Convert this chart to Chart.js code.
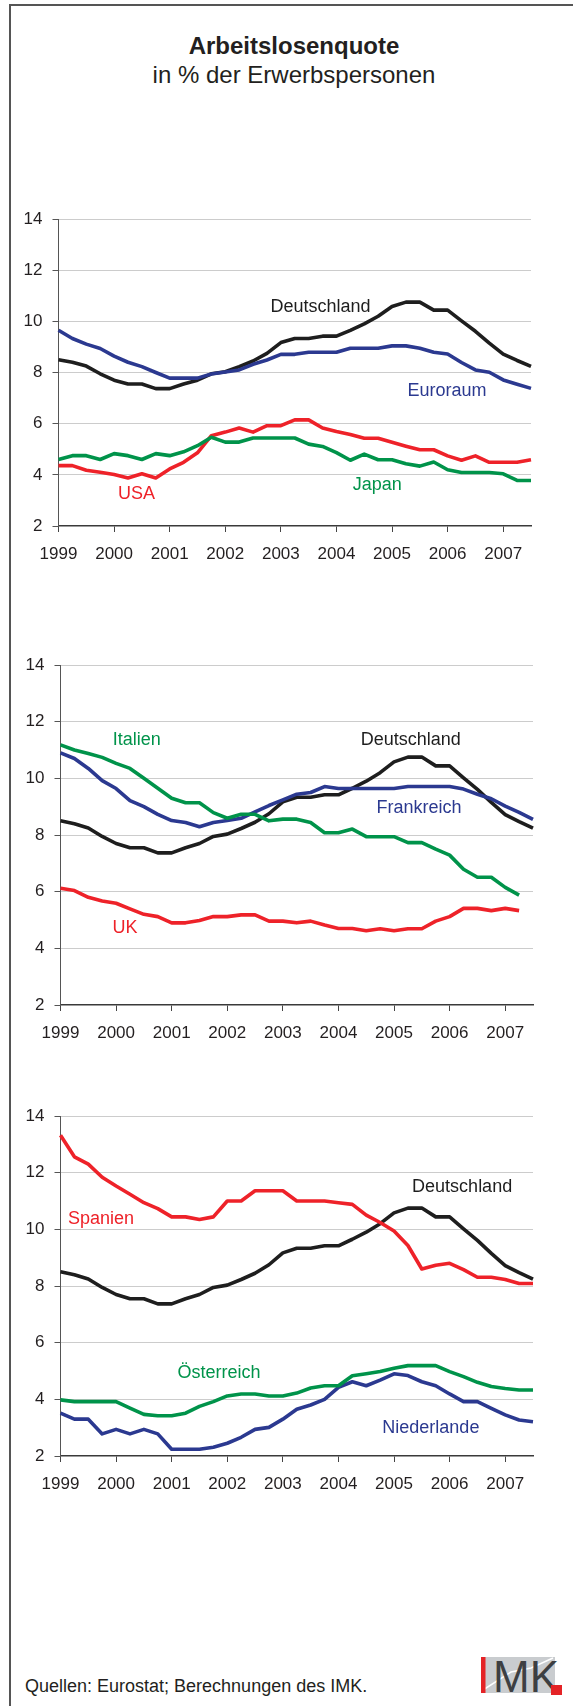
<!DOCTYPE html>
<html>
<head>
<meta charset="utf-8">
<script src="https://cdn.jsdelivr.net/npm/chart.js@4.4.1/dist/chart.umd.min.js"></script>
<style>
  html, body { margin: 0; padding: 0; background: #fff; }
  body { width: 573px; height: 1706px; position: relative; overflow: hidden;
         font-family: "Liberation Sans", Arial, sans-serif; color: #231f20; }
  .frame { position: absolute; left: 9px; top: 4px; width: 600px; height: 1800px;
           border-top: 2px solid #555; border-left: 2px solid #555; }
  .title { position: absolute; left: 10px; width: 568px; text-align: center;
           font-size: 24px; line-height: 24px; white-space: nowrap; }
  canvas { position: absolute; left: 0; }
  .foot { position: absolute; left: 25px; top: 1677px; font-size: 18px; line-height: 18px; white-space: nowrap; }
  .logo { position: absolute; left: 481px; top: 1657px; }
</style>
</head>
<body>
<div class="frame"></div>
<div class="title" style="top:34px;font-weight:bold;">Arbeitslosenquote</div>
<div class="title" style="top:63px;">in % der Erwerbspersonen</div>
<canvas id="c1" width="573" height="377"></canvas>
<canvas id="c2" width="573" height="410"></canvas>
<canvas id="c3" width="573" height="410"></canvas>
<div class="foot">Quellen: Eurostat; Berechnungen des IMK.</div>
<svg class="logo" width="84" height="40" viewBox="0 0 84 40">
  <rect x="0" y="0" width="74" height="36" fill="#c9cccf"/>
  <polyline points="2,33 30,15 50,11 72,1" fill="none" stroke="#ffffff" stroke-width="1.5"/>
  <rect x="0" y="0" width="4.5" height="36" fill="#e42326"/>
  <text x="12" y="35" font-family="Liberation Sans Narrow, Arial Narrow, sans-serif" font-size="44" fill="#3d3f42">MK</text>
  <rect x="70" y="28" width="11" height="10" fill="#e42326"/>
</svg>
<script>
// ---- Data (quarterly, 1999 Q1 – 2007 Q3) ----
const quarters = [
  '1999 Q1','1999 Q2','1999 Q3','1999 Q4',
  '2000 Q1','2000 Q2','2000 Q3','2000 Q4',
  '2001 Q1','2001 Q2','2001 Q3','2001 Q4',
  '2002 Q1','2002 Q2','2002 Q3','2002 Q4',
  '2003 Q1','2003 Q2','2003 Q3','2003 Q4',
  '2004 Q1','2004 Q2','2004 Q3','2004 Q4',
  '2005 Q1','2005 Q2','2005 Q3','2005 Q4',
  '2006 Q1','2006 Q2','2006 Q3','2006 Q4',
  '2007 Q1','2007 Q2','2007 Q3'
];
const yearLabels = ['1999','2000','2001','2002','2003','2004','2005','2006','2007'];
const yTicks = [2, 4, 6, 8, 10, 12, 14];

const deutschland = [8.5, 8.4, 8.25, 7.95, 7.7, 7.55, 7.55, 7.37, 7.37, 7.55, 7.7, 7.95,
  8.03, 8.23, 8.45, 8.75, 9.17, 9.33, 9.33, 9.42, 9.42, 9.65, 9.9, 10.2,
  10.58, 10.75, 10.75, 10.44, 10.44, 10.02, 9.61, 9.15, 8.72, 8.47, 8.24];
const euroraum = [9.65, 9.33, 9.11, 8.94, 8.64, 8.4, 8.23, 8.0, 7.78, 7.78, 7.78, 7.94,
  8.02, 8.1, 8.32, 8.49, 8.71, 8.71, 8.79, 8.79, 8.79, 8.95, 8.95, 8.95,
  9.04, 9.04, 8.95, 8.79, 8.72, 8.39, 8.1, 8.01, 7.71, 7.54, 7.38];
const usa = [4.36, 4.36, 4.18, 4.1, 4.01, 3.88, 4.04, 3.88, 4.23, 4.49, 4.86, 5.53,
  5.67, 5.83, 5.67, 5.92, 5.92, 6.15, 6.15, 5.83, 5.69, 5.58, 5.43, 5.43,
  5.27, 5.12, 4.98, 4.98, 4.74, 4.57, 4.74, 4.49, 4.49, 4.49, 4.59];
const japan = [4.6, 4.75, 4.75, 4.6, 4.83, 4.75, 4.6, 4.83, 4.75, 4.9, 5.14, 5.47,
  5.28, 5.28, 5.44, 5.44, 5.44, 5.44, 5.2, 5.11, 4.87, 4.57, 4.81, 4.59,
  4.59, 4.43, 4.34, 4.5, 4.2, 4.09, 4.09, 4.09, 4.04, 3.78, 3.78];
const italien = [11.18, 11.0, 10.88, 10.74, 10.53, 10.35, 10.0, 9.65, 9.3, 9.14, 9.14, 8.79,
  8.59, 8.73, 8.73, 8.5, 8.56, 8.56, 8.44, 8.08, 8.08, 8.21, 7.94, 7.94,
  7.94, 7.73, 7.73, 7.5, 7.29, 6.79, 6.51, 6.51, 6.15, 5.88, null];
const frankreich = [10.9, 10.7, 10.35, 9.92, 9.64, 9.21, 9.0, 8.73, 8.51, 8.44, 8.29, 8.44,
  8.51, 8.59, 8.82, 9.04, 9.24, 9.44, 9.5, 9.71, 9.64, 9.64, 9.64, 9.64,
  9.64, 9.71, 9.71, 9.71, 9.71, 9.62, 9.44, 9.28, 9.02, 8.8, 8.55];
const uk = [6.12, 6.04, 5.8, 5.67, 5.59, 5.39, 5.2, 5.12, 4.9, 4.9, 4.98, 5.12,
  5.12, 5.18, 5.18, 4.96, 4.96, 4.9, 4.96, 4.82, 4.7, 4.7, 4.62, 4.69,
  4.62, 4.69, 4.69, 4.96, 5.12, 5.41, 5.41, 5.33, 5.41, 5.33, null];
const spanien = [13.32, 12.56, 12.3, 11.84, 11.53, 11.24, 10.94, 10.73, 10.44, 10.44, 10.35, 10.44,
  11.0, 11.0, 11.36, 11.36, 11.36, 11.0, 11.0, 11.0, 10.94, 10.88, 10.5, 10.24,
  9.94, 9.43, 8.6, 8.73, 8.8, 8.58, 8.31, 8.31, 8.23, 8.09, 8.09];
const oesterreich = [3.98, 3.92, 3.92, 3.92, 3.92, 3.69, 3.47, 3.42, 3.42, 3.51, 3.75, 3.92,
  4.12, 4.19, 4.19, 4.12, 4.12, 4.22, 4.4, 4.48, 4.48, 4.83, 4.9, 4.98,
  5.1, 5.19, 5.19, 5.19, 4.98, 4.8, 4.6, 4.45, 4.38, 4.33, 4.33];
const niederlande = [3.51, 3.3, 3.3, 2.78, 2.94, 2.78, 2.94, 2.78, 2.24, 2.24, 2.24, 2.31,
  2.45, 2.66, 2.94, 3.01, 3.3, 3.65, 3.8, 4.0, 4.42, 4.62, 4.48, 4.68,
  4.9, 4.84, 4.62, 4.48, 4.19, 3.92, 3.92, 3.68, 3.45, 3.27, 3.21];

// ---- Styles ----
const FONT = '"Liberation Sans", Arial, sans-serif';
const C = { black: '#1e1e1e', blue: '#2b3990', red: '#ee2229', green: '#00934a' };

const seriesLabelPlugin = {
  id: 'seriesLabels',
  afterDatasetsDraw(chart, args, opts) {
    const ctx = chart.ctx, xs = chart.scales.x, ys = chart.scales.y;
    ctx.save();
    ctx.font = '18px ' + FONT;
    ctx.textAlign = 'center';
    ctx.textBaseline = 'middle';
    (opts.items || []).forEach(it => {
      ctx.fillStyle = it.color;
      ctx.fillText(it.text, xs.getPixelForValue(it.x), ys.getPixelForValue(it.y));
    });
    ctx.restore();
  }
};

function ds(label, data, color) {
  return { label, data, borderColor: color, borderWidth: 3.6, pointRadius: 0,
           tension: 0, fill: false, borderJoinStyle: 'round', spanGaps: false };
}

function makeChart(id, chartTop, chartBottom, left, right, datasets, labels) {
  const cv = document.getElementById(id);
  const padTop = 25, axisH = 45;
  cv.style.top = (chartTop - padTop) + 'px';
  cv.height = chartBottom - chartTop + padTop + axisH;
  cv.width = 573;
  return new Chart(cv, {
    type: 'line',
    data: { labels: quarters, datasets },
    options: {
      responsive: false, animation: false,
      layout: { padding: { top: padTop, left: 0, right: 573 - right, bottom: 0 } },
      plugins: { legend: { display: false }, tooltip: { enabled: false }, title: { display: false },
                 seriesLabels: { items: labels } },
      scales: {
        x: {
          type: 'category', offset: false,
          afterFit: s => { s.height = axisH; },
          grid: { drawOnChartArea: false, drawTicks: true, tickLength: 6,
                  tickColor: c => (c.index % 4 === 0 ? '#444' : 'rgba(0,0,0,0)'), tickWidth: 1 },
          border: { display: true, color: '#3a3a3a', width: 1.5 },
          ticks: { autoSkip: false, maxRotation: 0, padding: 12, color: '#231f20',
                   font: { family: FONT, size: 17 },
                   callback: (v, i) => (i % 4 === 0 ? yearLabels[i / 4] : '') }
        },
        y: {
          min: 2, max: 14,
          afterFit: s => { s.width = left; },
          afterBuildTicks: s => { s.ticks = yTicks.map(v => ({ value: v })); },
          grid: { color: c => (c.tick && c.tick.value === 2 ? 'rgba(0,0,0,0)' : '#cccccc'),
                  lineWidth: 1, tickLength: 6, tickColor: '#555', drawTicks: true },
          border: { display: true, color: '#555', width: 1 },
          ticks: { padding: 10, color: '#231f20', font: { family: FONT, size: 17 } }
        }
      }
    },
    plugins: [seriesLabelPlugin]
  });
}

makeChart('c1', 219, 526, 58.5, 531, [
  ds('Japan', japan, C.green),
  ds('USA', usa, C.red),
  ds('Euroraum', euroraum, C.blue),
  ds('Deutschland', deutschland, C.black)
], [
  { text: 'Deutschland', x: 18.85, y: 10.57, color: C.black },
  { text: 'Euroraum', x: 27.95, y: 7.28, color: C.blue },
  { text: 'USA', x: 5.61, y: 3.25, color: C.red },
  { text: 'Japan', x: 22.94, y: 3.61, color: C.green }
]);

makeChart('c2', 665, 1005, 60.5, 533, [
  ds('UK', uk, C.red),
  ds('Italien', italien, C.green),
  ds('Frankreich', frankreich, C.blue),
  ds('Deutschland', deutschland, C.black)
], [
  { text: 'Italien', x: 5.48, y: 11.35, color: C.green },
  { text: 'Deutschland', x: 25.2, y: 11.35, color: C.black },
  { text: 'Frankreich', x: 25.8, y: 8.94, color: C.blue },
  { text: 'UK', x: 4.64, y: 4.71, color: C.red }
]);

makeChart('c3', 1116, 1456, 60.5, 533, [
  ds('Österreich', oesterreich, C.green),
  ds('Niederlande', niederlande, C.blue),
  ds('Spanien', spanien, C.red),
  ds('Deutschland', deutschland, C.black)
], [
  { text: 'Deutschland', x: 28.9, y: 11.48, color: C.black },
  { text: 'Spanien', x: 2.91, y: 10.35, color: C.red },
  { text: 'Österreich', x: 11.4, y: 4.92, color: C.green },
  { text: 'Niederlande', x: 26.65, y: 3.0, color: C.blue }
]);
</script>
</body>
</html>
